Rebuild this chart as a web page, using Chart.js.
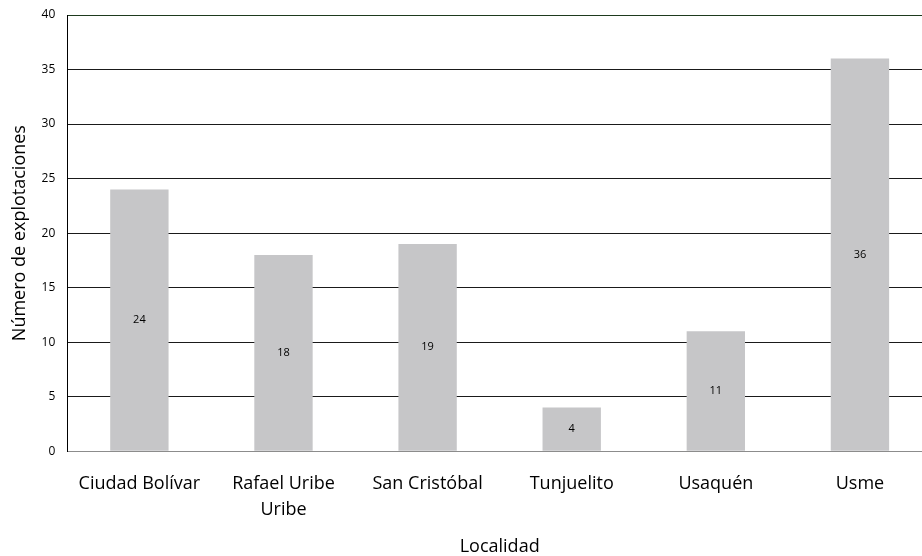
<!DOCTYPE html>
<html>
<head>
<meta charset="utf-8">
<script src="https://cdn.jsdelivr.net/npm/chart.js@4/dist/chart.umd.min.js"></script>
<style>
  html, body { margin: 0; padding: 0; background: #fff; overflow: hidden; }
  #wrap { width: 940px; height: 556px; position: relative; }
</style>
</head>
<body>
<div id="wrap"><canvas id="c" width="940" height="556"></canvas></div>
<script>
const categories = ["Ciudad Bolívar", ["Rafael Uribe", "Uribe"], "San Cristóbal", "Tunjuelito", "Usaquén", "Usme"];
const values = [24, 18, 19, 4, 11, 36];
const yTicks = [0, 5, 10, 15, 20, 25, 30, 35, 40];
const yTitle = "Número de explotaciones";
const xTitle = "Localidad";

const FONT = "Open Sans";

const barLabels = {
  id: 'barLabels',
  afterDatasetsDraw(chart) {
    const ctx = chart.ctx;
    const meta = chart.getDatasetMeta(0);
    ctx.save();
    ctx.font = "11px " + FONT;
    ctx.fillStyle = "#000";
    ctx.textAlign = "center";
    ctx.textBaseline = "middle";
    meta.data.forEach((bar, i) => {
      const mid = (bar.y + bar.base) / 2;
      ctx.fillText(String(chart.data.datasets[0].data[i]), bar.x, mid);
    });
    ctx.restore();
  }
};

new Chart(document.getElementById('c'), {
  type: 'bar',
  data: {
    labels: categories,
    datasets: [{
      data: values,
      backgroundColor: '#c6c6c8',
      borderWidth: 0,
      barPercentage: 0.405,
      categoryPercentage: 1.0
    }]
  },
  options: {
    responsive: false,
    animation: false,
    devicePixelRatio: 1,
    layout: { padding: { top: 2, right: 8, left: 9, bottom: -2 } },
    plugins: {
      legend: { display: false },
      tooltip: { enabled: false }
    },
    scales: {
      x: {
        grid: { display: false, drawTicks: false },
        border: { display: true, color: '#8c8c8c', width: 1 },
        ticks: {
          color: '#000',
          font: { family: FONT, size: 18, lineHeight: 1.45 },
          padding: 20,
          maxRotation: 0,
          autoSkip: false
        },
        title: {
          display: true,
          text: xTitle,
          color: '#000',
          font: { family: FONT, size: 18 },
          padding: { top: -7, bottom: 0 }
        }
      },
      y: {
        min: 0,
        max: 40,
        afterBuildTicks(axis) { axis.ticks = yTicks.map(v => ({ value: v })); },
        grid: {
          drawTicks: false,
          color: ctx => ctx.tick && ctx.tick.value === 40 ? '#1e3a1e' : (ctx.tick && ctx.tick.value === 0 ? '#8c8c8c' : '#1a1a1a'),
          lineWidth: 1
        },
        border: { display: true, color: '#000', width: 1 },
        ticks: {
          color: '#000',
          font: { family: FONT, size: 12, lineHeight: 0.5 },
          padding: 12
        },
        title: {
          display: true,
          text: yTitle,
          color: '#000',
          font: { family: FONT, size: 18 },
          padding: { top: 0, bottom: -1 }
        }
      }
    }
  },
  plugins: [barLabels]
});
</script>
</body>
</html>
